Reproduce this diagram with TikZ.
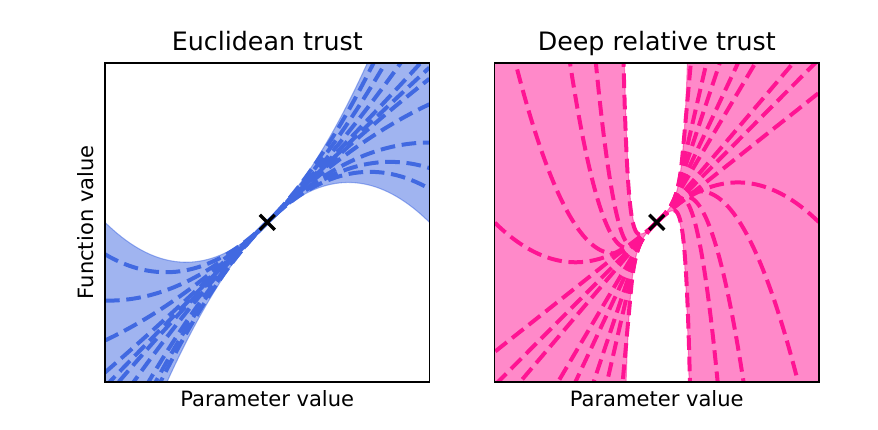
\documentclass[tikz,border=0pt]{standalone}
\usepackage{fontspec}
\setmainfont{DejaVu Sans}
\usepackage{tikz}
\definecolor{royal}{RGB}{65,105,225}
\definecolor{dpink}{RGB}{255,20,147}

\begin{document}
\begin{tikzpicture}[x=0.75pt,y=0.75pt,yscale=-1,xscale=1,
  declare function={drtB(\xa)=(exp(\xa/0.0275)-1-\xa/0.0275)/1190.5;
    drtD(\xa)=(exp(\xa/0.0275)-1)/32.74;
    rmp(\xa,\xb)=max(\xa-\xb,0);},
  eucdash/.style={draw=royal, line width=3pt, dash pattern=on 11pt off 5pt},
  drtdash/.style={draw=dpink, line width=3pt, dash pattern=on 11pt off 5pt},
  eucfill/.style={fill=royal, draw=royal, fill opacity=0.5, draw opacity=0.5, line width=0.8pt},
  drtfill/.style={fill=dpink, draw=dpink, fill opacity=0.5, draw opacity=0.5, line width=0.8pt},
  frame/.style={draw=black, line width=1.25pt},
  xmark/.style={draw=black, line width=2.5pt},
  ttl/.style={anchor=base, inner sep=0pt, font=\fontsize{19}{23}\selectfont},
  lab/.style={anchor=base, inner sep=0pt, font=\fontsize{15.8}{19}\selectfont}]
%set diagram left start at 0, and has height of 429
\useasboundingbox (0,0) rectangle (878,429);

%Euclidean panel
\begin{scope}
\clip (105,62.7) rectangle (429.5,382);
%Shape: Band
\filldraw[eucfill] plot[domain=-1:1, samples=80] ({267.25+162.25*\x},{222.35-159.65*(\x+\x*\x)}) -- plot[domain=1:-1, samples=80] ({267.25+162.25*\x},{222.35-159.65*(\x-\x*\x)}) -- cycle;
%Curve Lines
\draw[eucdash] plot[domain=-1:1, samples=70] ({267.25+162.25*\x},{222.35-159.65*(\x+0.80*\x*\x)});
%Curve Lines
\draw[eucdash] plot[domain=-1:1, samples=70] ({267.25+162.25*\x},{222.35-159.65*(\x+0.51*\x*\x)});
%Curve Lines
\draw[eucdash] plot[domain=-1:1, samples=70] ({267.25+162.25*\x},{222.35-159.65*(\x+0.26*\x*\x)});
%Curve Lines
\draw[eucdash] plot[domain=-1:1, samples=70] ({267.25+162.25*\x},{222.35-159.65*(\x+0.06*\x*\x)});
%Curve Lines
\draw[eucdash] plot[domain=-1:1, samples=70] ({267.25+162.25*\x},{222.35-159.65*(\x-0.03*\x*\x)});
%Curve Lines
\draw[eucdash] plot[domain=-1:1, samples=70] ({267.25+162.25*\x},{222.35-159.65*(\x-0.10*\x*\x)});
%Curve Lines
\draw[eucdash] plot[domain=-1:1, samples=70] ({267.25+162.25*\x},{222.35-159.65*(\x-0.26*\x*\x)});
%Curve Lines
\draw[eucdash] plot[domain=-1:1, samples=70] ({267.25+162.25*\x},{222.35-159.65*(\x-0.50*\x*\x)});
%Curve Lines
\draw[eucdash] plot[domain=-1:1, samples=70] ({267.25+162.25*\x},{222.35-159.65*(\x-0.66*\x*\x)});
%Curve Lines
\draw[eucdash] plot[domain=-1:1, samples=70] ({267.25+162.25*\x},{222.35-159.65*(\x-0.79*\x*\x)});
\end{scope}

%Deep relative panel
\begin{scope}
\clip (494.5,62.7) rectangle (819,382);
%Shape: Band right half
\filldraw[drtfill] plot[domain=0:0.21, samples=120] ({656.75+162.25*\x},{222.35-159.65*(\x+drtB(\x))}) -- (830,-120) -- (830,560) -- plot[domain=0.21:0, samples=120] ({656.75+162.25*\x},{222.35-159.65*(\x-drtB(\x))}) -- cycle;
%Shape: Band left half
\filldraw[drtfill] plot[domain=0:0.21, samples=120] ({656.75-162.25*\x},{222.35+159.65*(\x+drtB(\x))}) -- (484,560) -- (484,-120) -- plot[domain=0.21:0, samples=120] ({656.75-162.25*\x},{222.35+159.65*(\x-drtB(\x))}) -- cycle;
%Curve Lines
\draw[drtdash] plot[domain=0:0.25, samples=120] ({656.75+162.25*\x},{222.35-159.65*(\x+drtB(min(\x,0.16))+drtD(0.16)*rmp(\x,0.16))}) plot[domain=0:0.25, samples=120] ({656.75-162.25*\x},{222.35+159.65*(\x+drtB(min(\x,0.16))+drtD(0.16)*rmp(\x,0.16))});
%Curve Lines
\draw[drtdash] plot[domain=0:0.34, samples=120] ({656.75+162.25*\x},{222.35-159.65*(\x+drtB(min(\x,0.13))+drtD(0.13)*rmp(\x,0.13))}) plot[domain=0:0.34, samples=120] ({656.75-162.25*\x},{222.35+159.65*(\x+drtB(min(\x,0.13))+drtD(0.13)*rmp(\x,0.13))});
%Curve Lines
\draw[drtdash] plot[domain=0:0.42, samples=120] ({656.75+162.25*\x},{222.35-159.65*(\x+drtB(min(\x,0.116))+drtD(0.116)*rmp(\x,0.116))}) plot[domain=0:0.42, samples=120] ({656.75-162.25*\x},{222.35+159.65*(\x+drtB(min(\x,0.116))+drtD(0.116)*rmp(\x,0.116))});
%Curve Lines
\draw[drtdash] plot[domain=0:0.54, samples=120] ({656.75+162.25*\x},{222.35-159.65*(\x+drtB(min(\x,0.101))+drtD(0.101)*rmp(\x,0.101))}) plot[domain=0:0.54, samples=120] ({656.75-162.25*\x},{222.35+159.65*(\x+drtB(min(\x,0.101))+drtD(0.101)*rmp(\x,0.101))});
%Curve Lines
\draw[drtdash] plot[domain=0:0.65, samples=120] ({656.75+162.25*\x},{222.35-159.65*(\x+drtB(min(\x,0.088))+drtD(0.088)*rmp(\x,0.088))}) plot[domain=0:0.65, samples=120] ({656.75-162.25*\x},{222.35+159.65*(\x+drtB(min(\x,0.088))+drtD(0.088)*rmp(\x,0.088))});
%Curve Lines
\draw[drtdash] plot[domain=0:0.88, samples=120] ({656.75+162.25*\x},{222.35-159.65*(\x+drtB(min(\x,0.055))+drtD(0.055)*rmp(\x,0.055))}) plot[domain=0:0.88, samples=120] ({656.75-162.25*\x},{222.35+159.65*(\x+drtB(min(\x,0.055))+drtD(0.055)*rmp(\x,0.055))});
%Curve Lines
\draw[drtdash] plot[domain=0:1, samples=120] ({656.75+162.25*\x},{222.35-159.65*(\x+drtB(min(\x,0.015))+drtD(0.015)*rmp(\x,0.015))}) plot[domain=0:1, samples=120] ({656.75-162.25*\x},{222.35+159.65*(\x+drtB(min(\x,0.015))+drtD(0.015)*rmp(\x,0.015))});
%Curve Lines
\draw[drtdash] plot[domain=0:1, samples=120] ({656.75+162.25*\x},{222.35-159.65*(\x-drtB(min(\x,0.055))-drtD(0.055)*rmp(\x,0.055))}) plot[domain=0:1, samples=120] ({656.75-162.25*\x},{222.35+159.65*(\x-drtB(min(\x,0.055))-drtD(0.055)*rmp(\x,0.055))});
%Curve Lines
\draw[drtdash] plot[domain=0:0.215, samples=120] ({656.75+162.25*\x},{222.35-159.65*(\x-0.85*drtB(\x))}) plot[domain=0:0.215, samples=120] ({656.75-162.25*\x},{222.35+159.65*(\x-0.85*drtB(\x))});
%Curve Lines
\draw[drtdash] plot[domain=0:0.4, samples=120] ({656.75+162.25*\x},{222.35-159.65*(\x-24*rmp(\x,0.136)*rmp(\x,0.136))}) plot[domain=0:0.4, samples=120] ({656.75-162.25*\x},{222.35+159.65*(\x-24*rmp(\x,0.136)*rmp(\x,0.136))});
%Curve Lines
\draw[drtdash] plot[domain=0:0.56, samples=120] ({656.75+162.25*\x},{222.35-159.65*(\x-9.5*rmp(\x,0.133)*rmp(\x,0.133))}) plot[domain=0:0.56, samples=120] ({656.75-162.25*\x},{222.35+159.65*(\x-9.5*rmp(\x,0.133)*rmp(\x,0.133))});
%Curve Lines
\draw[drtdash] plot[domain=0:0.92, samples=120] ({656.75+162.25*\x},{222.35-159.65*(\x-3.3*rmp(\x,0.118)*rmp(\x,0.118))}) plot[domain=0:0.92, samples=120] ({656.75-162.25*\x},{222.35+159.65*(\x-3.3*rmp(\x,0.118)*rmp(\x,0.118))});
%Curve Lines
\draw[drtdash] plot[domain=0:1, samples=100] ({656.75+162.25*\x},{222.35-159.65*(\x-\x*\x)}) plot[domain=0:1, samples=100] ({656.75-162.25*\x},{222.35+159.65*(\x-\x*\x)});
\end{scope}

%Shape: Rectangle
\draw[frame] (105,62.7) rectangle (429.5,382);
%Shape: Rectangle
\draw[frame] (494.5,62.7) rectangle (819,382);

%Markers
\coordinate (ctrEuc) at (267.25,222.35);
\coordinate (ctrDrt) at (656.75,222.35);
\draw[xmark] ([shift={(-7.5,-7.5)}]ctrEuc) -- ([shift={(7.5,7.5)}]ctrEuc);
\draw[xmark] ([shift={(-7.5,7.5)}]ctrEuc) -- ([shift={(7.5,-7.5)}]ctrEuc);
\draw[xmark] ([shift={(-7.5,-7.5)}]ctrDrt) -- ([shift={(7.5,7.5)}]ctrDrt);
\draw[xmark] ([shift={(-7.5,7.5)}]ctrDrt) -- ([shift={(7.5,-7.5)}]ctrDrt);

% Text Node
\draw (267.25,50) node (ttlEuc) [ttl] {Euclidean trust};
% Text Node
\draw (656.75,50) node (ttlDrt) [ttl] {Deep relative trust};
% Text Node
\draw (267.25,406) node (xlabEuc) [lab] {Parameter value};
% Text Node
\draw (656.75,406) node (xlabDrt) [lab] {Parameter value};
% Text Node
\draw (93.3,222.35) node (ylabEuc) [lab, rotate=90] {Function value};

\end{tikzpicture}
\end{document}
